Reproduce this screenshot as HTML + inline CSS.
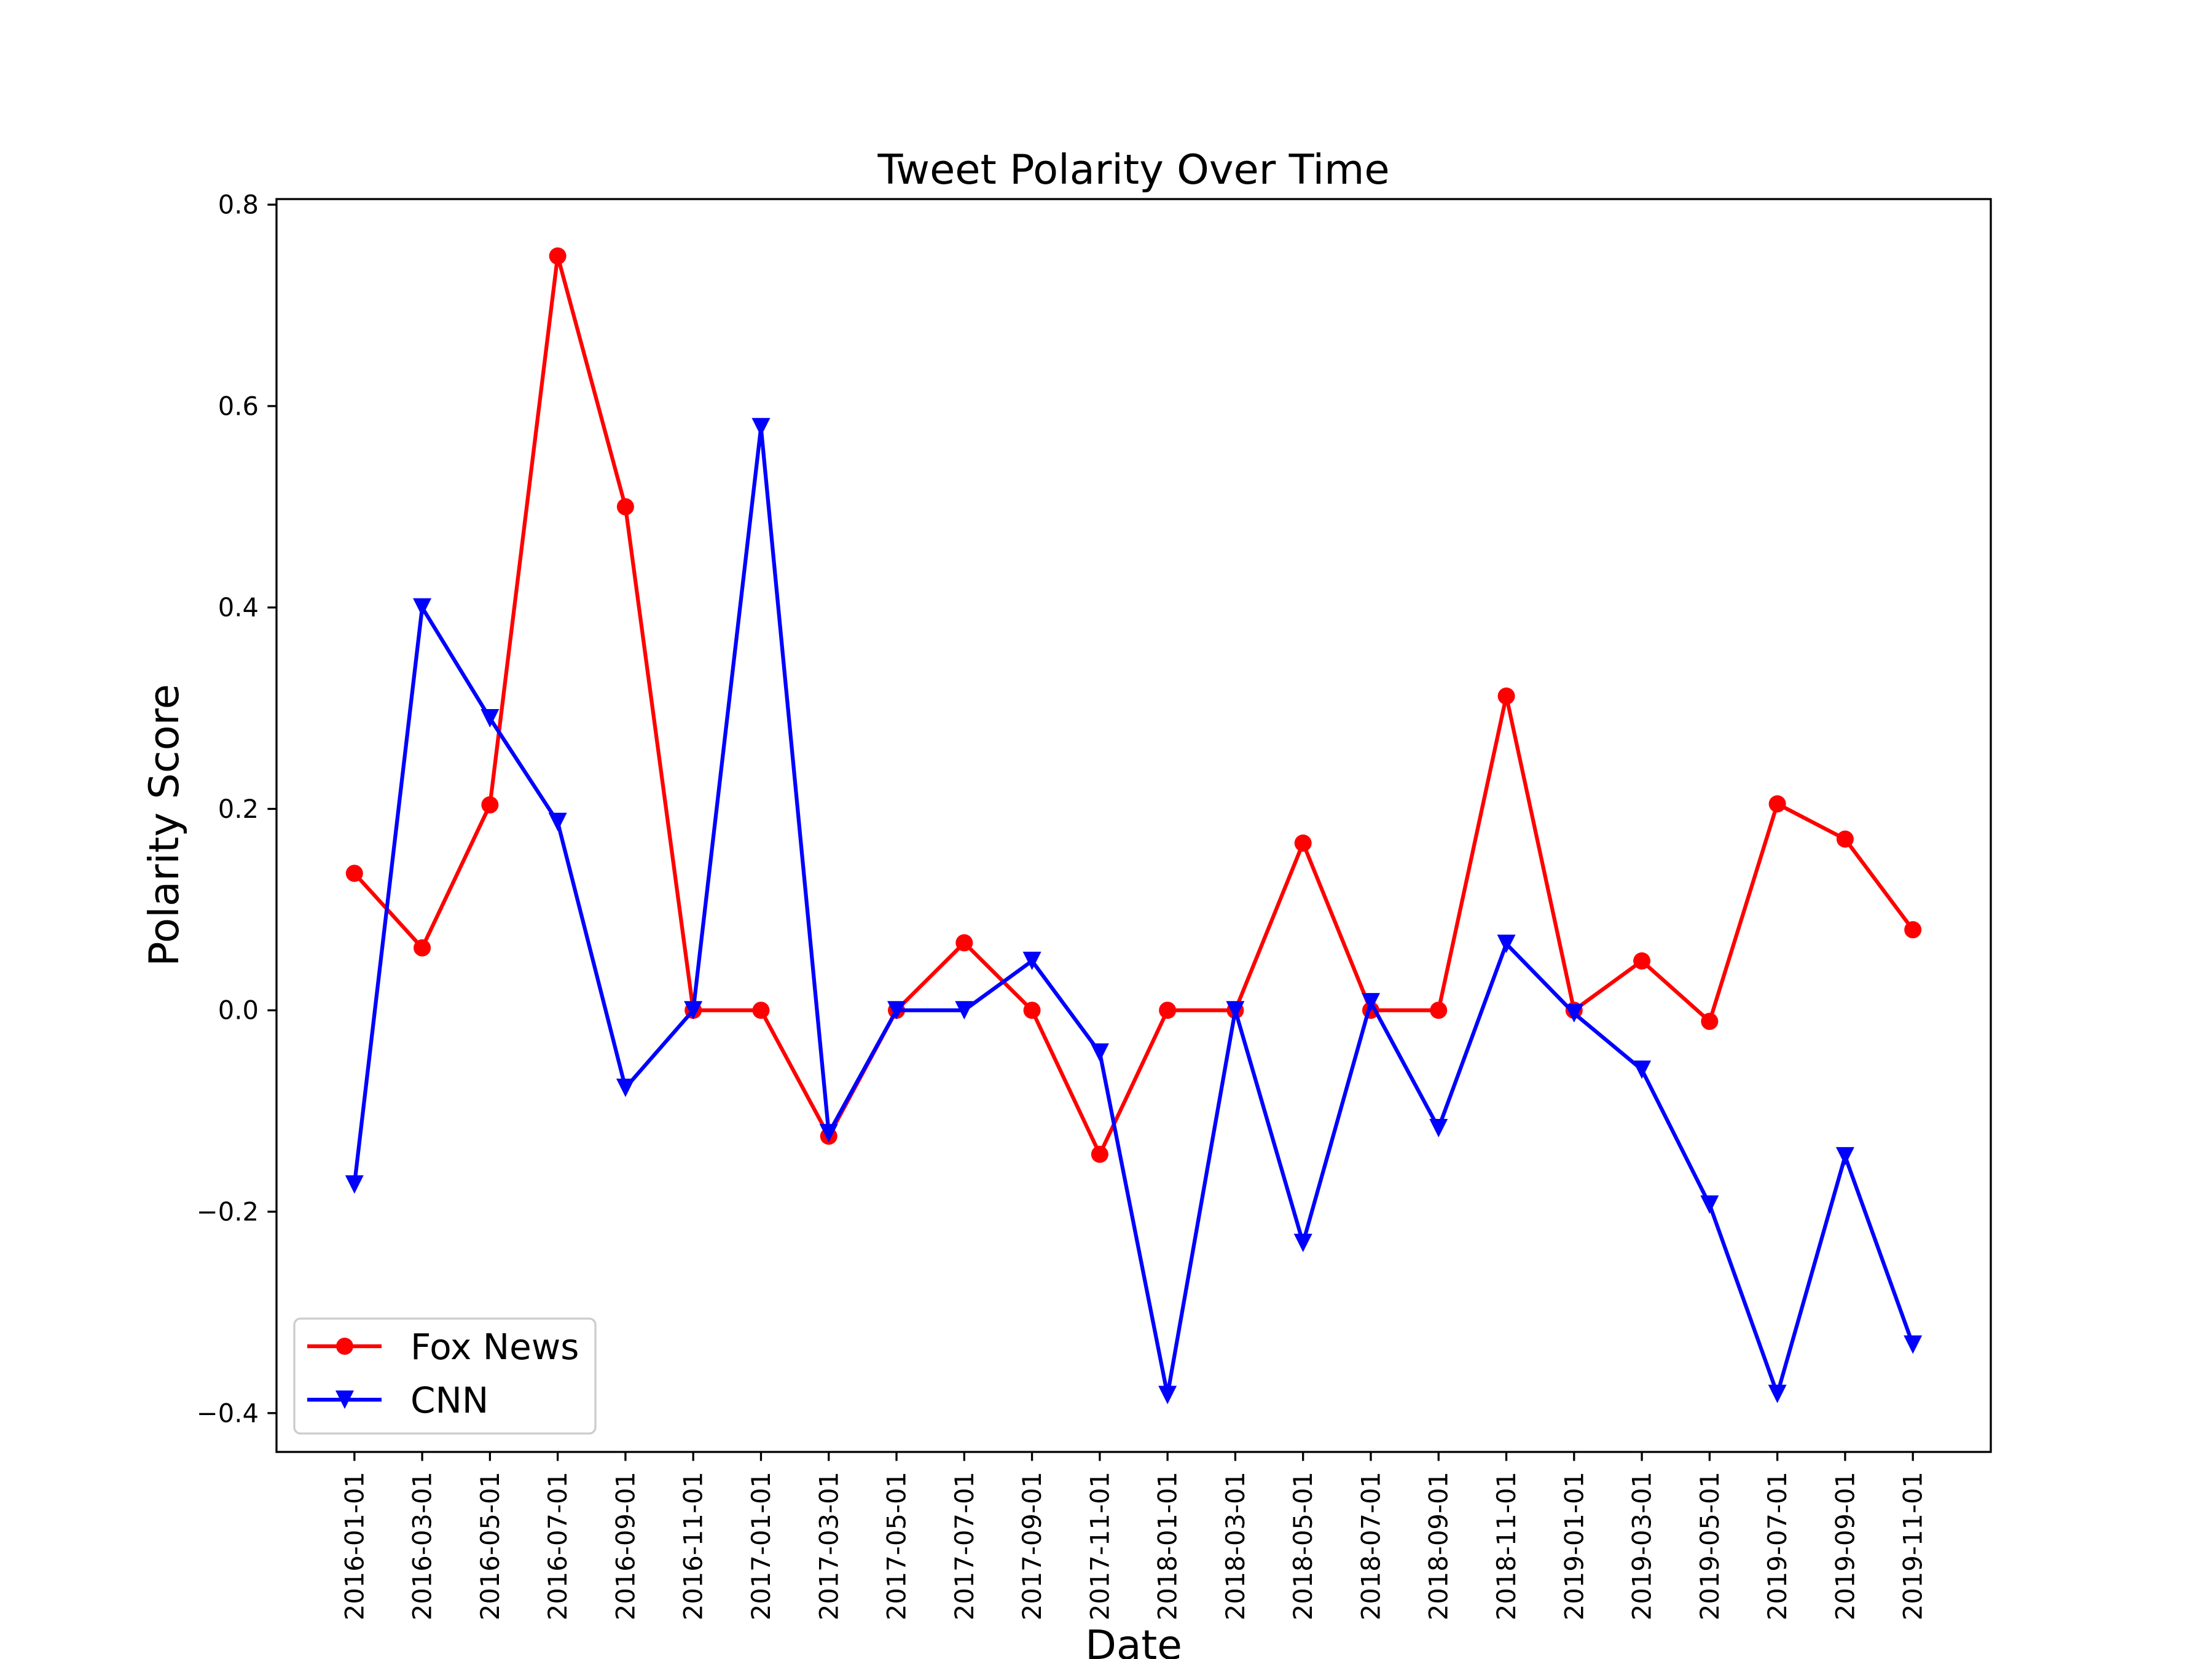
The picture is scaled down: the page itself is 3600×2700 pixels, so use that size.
<!DOCTYPE html>
<html><head><meta charset="utf-8"><style>html,body{margin:0;padding:0;background:#fff}svg{display:block}</style></head>
<body>
<svg id="chart" width="3600" height="2700" viewBox="0 0 3600 2700" xmlns="http://www.w3.org/2000/svg" font-family="DejaVu Sans, Liberation Sans, sans-serif">
<rect x="0" y="0" width="3600" height="2700" fill="#fff"/>
<text x="1845" y="299" font-size="67" text-anchor="middle">Tweet Polarity Over Time</text>
<text x="1845" y="2700" font-size="66" text-anchor="middle">Date</text>
<text transform="translate(290,1343) rotate(-90)" font-size="67" text-anchor="middle">Polarity Score</text>
<g id="plot"></g>
<g id="legend">
  <rect x="479" y="2146" width="490" height="187" rx="10" fill="#fff" fill-opacity="0.8" stroke="#cccccc" stroke-width="3.3"/>
  <g>
    <line x1="500" y1="2191" x2="621" y2="2191" stroke="#ff0000" stroke-width="6.25"/>
    <circle cx="561" cy="2191" r="14" fill="#ff0000"/>
    <text x="668" y="2212" font-size="58">Fox News</text>
  </g>
  <g>
    <line x1="500" y1="2278" x2="621" y2="2278" stroke="#0000ff" stroke-width="6.25"/>
    <polygon points="546,2263 576,2263 561,2293" fill="#0000ff"/>
    <text x="668" y="2299" font-size="58">CNN</text>
  </g>
</g>
</svg>
<script>
const dates = ["2016-01-01","2016-03-01","2016-05-01","2016-07-01","2016-09-01","2016-11-01","2017-01-01","2017-03-01","2017-05-01","2017-07-01","2017-09-01","2017-11-01","2018-01-01","2018-03-01","2018-05-01","2018-07-01","2018-09-01","2018-11-01","2019-01-01","2019-03-01","2019-05-01","2019-07-01","2019-09-01","2019-11-01"];
const foxValues = [0.136,0.062,0.204,0.749,0.50,0,0,-0.125,0,0.067,0,-0.143,0,0,0.166,0,0,0.312,0,0.049,-0.011,0.205,0.170,0.080];
const cnnValues = [-0.173,0.40,0.29,0.187,-0.077,0,0.579,-0.122,0,0,0.049,-0.042,-0.382,0,-0.231,0.008,-0.117,0.066,-0.003,-0.059,-0.193,-0.381,-0.145,-0.332];
const yTicks = [-0.4,-0.2,0.0,0.2,0.4,0.6,0.8];
const yTickLabels = ["\u22120.4","\u22120.2","0.0","0.2","0.4","0.6","0.8"];

const NS = "http://www.w3.org/2000/svg";
const L = 450, R = 3240, T = 324, B = 2363;
const n = dates.length;
const xMin = -0.05*(n-1), xMax = (n-1)*1.05;
const allV = foxValues.concat(cnnValues);
const vMin = Math.min(...allV), vMax = Math.max(...allV);
const yMin = vMin - 0.05*(vMax-vMin), yMax = vMax + 0.05*(vMax-vMin);
function xs(i){ return L + (i - xMin)/(xMax - xMin)*(R-L); }
function ys(v){ return B - (v - yMin)/(yMax - yMin)*(B-T); }
const plot = document.getElementById('plot');
function mk(tag, attrs){ const e = document.createElementNS(NS, tag); for (const k in attrs) e.setAttribute(k, attrs[k]); return e; }

yTicks.forEach((v, k) => {
  const y = ys(v);
  const t = mk('line', {x1: L-14.6, x2: L, y1: y, y2: y, stroke: '#000', 'stroke-width': 3.3});
  
  
  plot.appendChild(t);
  const lb = mk('text', {x: L-29, y: y, 'font-size': 41.7, 'text-anchor': 'end', 'dominant-baseline': 'central'});
  lb.textContent = yTickLabels[k];
  
  
  plot.appendChild(lb);
});
dates.forEach((d, i) => {
  const x = xs(i);
  const t = mk('line', {x1: x, x2: x, y1: B, y2: B+14.6, stroke: '#000', 'stroke-width': 3.3});
  
  
  plot.appendChild(t);
  const lb = mk('text', {transform: 'translate(' + x + ',' + (B+32) + ') rotate(-90)', 'font-size': 41.7, 'text-anchor': 'end', 'dominant-baseline': 'central'});
  lb.textContent = d;
  
  
  plot.appendChild(lb);
});

function series(vals, color, marker, name){
  const g = mk('g', {});
  
  
  const pts = vals.map((v, i) => xs(i).toFixed(1) + ',' + ys(v).toFixed(1)).join(' ');
  const pl = mk('polyline', {points: pts, fill: 'none', stroke: color, 'stroke-width': 6.25, 'stroke-linejoin': 'round'});
  
  
  g.appendChild(pl);
  vals.forEach((v, i) => {
    const x = xs(i), y = ys(v);
    let m;
    if (marker === 'circle') m = mk('circle', {cx: x, cy: y, r: 14, fill: color});
    else m = mk('polygon', {points: (x-15)+','+(y-15)+' '+(x+15)+','+(y-15)+' '+x+','+(y+15), fill: color});
    
    
    g.appendChild(m);
  });
  plot.appendChild(g);
}
series(foxValues, '#ff0000', 'circle', 'fox-news');
series(cnnValues, '#0000ff', 'triangle', 'cnn');

const frame = mk('rect', {x: L, y: T, width: R-L, height: B-T, fill: 'none', stroke: '#000', 'stroke-width': 3.3});


plot.appendChild(frame);
</script>
</body></html>
